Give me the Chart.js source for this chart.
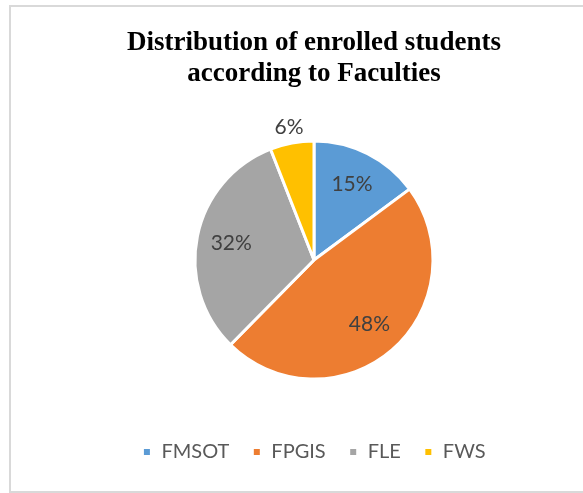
<!DOCTYPE html>
<html>
<head>
<meta charset="utf-8">
<script src="https://cdn.jsdelivr.net/npm/chart.js@4.4.1/dist/chart.umd.min.js"></script>
<style>
body { margin:0; background:#fff; }
#wrap { position:relative; width:583px; height:493px; overflow:hidden; }
#frame { position:absolute; left:9px; top:5px; width:600px; height:484px; border:2px solid #d9d9d9; box-sizing:content-box; }
#chart { position:absolute; left:0; top:0; }
</style>
</head>
<body>
<div id="wrap">
<div id="frame"></div>
<canvas id="chart" width="583" height="493"></canvas>
</div>
<script>

/* DATA */

const faculties = ["FMSOT", "FPGIS", "FLE", "FWS"];

const shares = [15, 48, 32, 6];

const sliceColors = ["#5B9BD5", "#ED7D31", "#A5A5A5", "#FFC000"];

const titleLines = ["Distribution of enrolled students", "according to Faculties"];


/* PERCENT LABELS ON SLICES */

const sliceLabels = {

id: "sliceLabels",

afterDatasetsDraw(chart){

const ctx = chart.ctx;
const meta = chart.getDatasetMeta(0);

ctx.save();
ctx.font = "21px Lato, 'Liberation Sans', sans-serif";
ctx.fillStyle = "#404040";
ctx.textAlign = "center";
ctx.textBaseline = "middle";

meta.data.forEach((arc, i) => {

const mid = (arc.startAngle + arc.endAngle) / 2;
const small = shares[i] < 10;
const dist = small ? arc.outerRadius + 16 : arc.outerRadius * 0.71;
const x = arc.x + Math.cos(mid) * dist;
const y = arc.y + Math.sin(mid) * dist;

ctx.fillText(shares[i] + "%", x, y);

});

ctx.restore();

}

};


new Chart(document.getElementById("chart"), {

type: "pie",

data: {
labels: faculties,
datasets: [{
data: shares,
backgroundColor: sliceColors,
borderColor: "#ffffff",
borderWidth: 3,
radius: 119
}]
},

options: {
responsive: false,
animation: false,
layout: { padding: { left: 45, right: 0, top: 10, bottom: 21 } },
plugins: {
title: {
display: true,
text: titleLines,
color: "#000000",
font: { family: "'Liberation Serif', 'Times New Roman', serif", size: 27, weight: "bold", lineHeight: 1.13 },
padding: { top: 18, bottom: 12 }
},
legend: {
position: "bottom",
labels: {
color: "#595959",
font: { family: "Lato, 'Liberation Sans', sans-serif", size: 20 },
boxWidth: 9,
boxHeight: 9,
padding: 23
}
},
tooltip: { enabled: false }
}
},

plugins: [sliceLabels]

});

</script>
</body>
</html>
